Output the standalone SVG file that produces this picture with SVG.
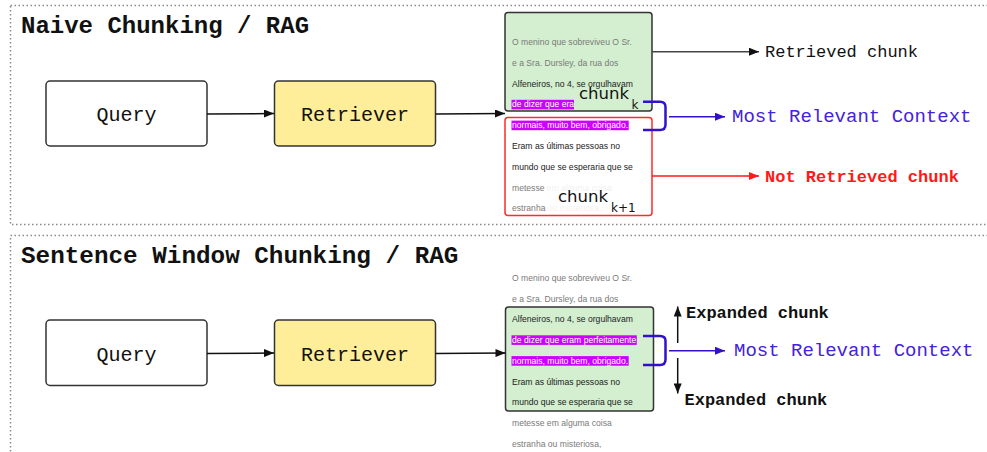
<svg xmlns="http://www.w3.org/2000/svg" width="987" height="452" viewBox="0 0 987 452">
<defs>
<style>
.frame{fill:none;stroke:#8a8a8a;stroke-width:1.5;stroke-dasharray:1.5 2.5}
.title{font-family:"Liberation Mono",monospace;font-weight:bold;fill:#111}
.box{stroke:#333;stroke-width:1.5}
.lbl{font-family:"Liberation Mono",monospace;font-size:20px;fill:#111;text-anchor:middle}
.t{font-family:"Liberation Sans",Arial,sans-serif;font-size:8.6px}
.g{fill:#7a7a7a}
.d{fill:#222}
.w{fill:#fff}
.hl{fill:#cc00ff}
.ck{font-family:"DejaVu Sans",sans-serif;fill:#111}
.mono{font-family:"Liberation Mono",monospace;font-size:17px}
.blue{font-family:"Liberation Mono",monospace;font-size:19px;fill:#4422dd}
.ln{fill:none;stroke-width:1.5}
</style>
<marker id="ab" viewBox="0 0 10 8" refX="10" refY="4" markerWidth="11" markerHeight="8" markerUnits="userSpaceOnUse" orient="auto"><path d="M0,0L10,4L0,8z" fill="#111"/></marker>
<marker id="abl" viewBox="0 0 10 8" refX="10" refY="4" markerWidth="12" markerHeight="8" markerUnits="userSpaceOnUse" orient="auto"><path d="M0,0L10,4L0,8z" fill="#3311cc"/></marker>
<marker id="ar" viewBox="0 0 10 8" refX="10" refY="4" markerWidth="11" markerHeight="8" markerUnits="userSpaceOnUse" orient="auto"><path d="M0,0L10,4L0,8z" fill="#ff1a1a"/></marker>
</defs>
<rect width="987" height="452" fill="#fff"/>

<g id="frame-naive">
<rect class="frame" x="10.5" y="5.5" width="990" height="219"/>
<text class="title" x="21" y="33" font-size="24">Naive Chunking / RAG</text>
</g>
<g id="frame-window">
<rect class="frame" x="10.5" y="235.5" width="990" height="240"/>
<text class="title" x="21" y="263" font-size="24.3">Sentence Window Chunking / RAG</text>
</g>

<g id="query1">
<rect class="box" x="46" y="81" width="161" height="65" rx="4" fill="#fff"/>
<text class="lbl" x="126.5" y="121">Query</text>
</g>
<g id="retriever1">
<rect class="box" x="274.5" y="81" width="161" height="65" rx="4" fill="#ffee99"/>
<text class="lbl" x="355" y="121">Retriever</text>
</g>

<g id="chunk-k">
<rect class="box" x="505" y="12.5" width="147" height="98.5" rx="3" fill="#d3efcf"/>
<text class="t g" x="512" y="45">O menino que sobreviveu O Sr.</text>
<text class="t g" x="512" y="65.8">e a Sra. Dursley, da rua dos</text>
<text class="t d" x="512" y="86.6">Alfeneiros, no 4, se orgulhavam</text>
<rect class="hl" x="511.5" y="99.8" width="62.5" height="9.6"/>
<text class="t w" x="512" y="107.4">de dizer que era</text>
<text class="ck" x="579" y="99" font-size="16.5">chunk</text>
<text class="ck" x="631.5" y="108.5" font-size="12">k</text>
</g>

<g id="chunk-k1">
<rect x="505" y="117.5" width="147" height="98" rx="3" fill="#fff" stroke="#ff2a2a" stroke-width="1.5"/>
<rect class="hl" x="511.5" y="120.6" width="117.2" height="9.6"/>
<text class="t w" x="512" y="128.2">normais, muito bem, obrigado.</text>
<text class="t d" x="512" y="149">Eram as últimas pessoas no</text>
<text class="t d" x="512" y="169.8">mundo que se esperaria que se</text>
<text class="t g" x="512" y="190.6">metesse em alguma coisa</text>
<text class="t g" x="512" y="211.4">estranha ou misteriosa,</text>
<rect x="547" y="180" width="98" height="34" fill="#fff" opacity="0.88"/>
<text class="ck" x="558" y="201.7" font-size="16.5">chunk</text>
<text class="ck" x="611" y="211.5" font-size="12">k+1</text>
</g>

<g id="label-retrieved">
<text class="mono" x="765" y="57.3" fill="#111">Retrieved chunk</text>
</g>
<g id="label-relevant1">
<text class="blue" x="732" y="122">Most Relevant Context</text>
</g>
<g id="label-notretrieved">
<text class="mono" x="765" y="181.7" fill="#ff1a1a" font-weight="bold">Not Retrieved chunk</text>
</g>

<g id="query2">
<rect class="box" x="46" y="320" width="161" height="65.5" rx="4" fill="#fff"/>
<text class="lbl" x="126.5" y="361">Query</text>
</g>
<g id="retriever2">
<rect class="box" x="274.5" y="320" width="161" height="65.5" rx="4" fill="#ffee99"/>
<text class="lbl" x="355" y="361">Retriever</text>
</g>

<g id="window-chunk">
<rect class="box" x="505.5" y="307" width="148" height="104" rx="3" fill="#d3efcf"/>
<text class="t g" x="512" y="280.7">O menino que sobreviveu O Sr.</text>
<text class="t g" x="512" y="301.5">e a Sra. Dursley, da rua dos</text>
<text class="t d" x="512" y="322.3">Alfeneiros, no 4, se orgulhavam</text>
<rect class="hl" x="511.5" y="335.3" width="125.3" height="9.6"/>
<text class="t w" x="512" y="342.9">de dizer que eram perfeitamente</text>
<rect class="hl" x="511.5" y="356.1" width="117.2" height="9.6"/>
<text class="t w" x="512" y="363.7">normais, muito bem, obrigado.</text>
<text class="t d" x="512" y="384.5">Eram as últimas pessoas no</text>
<text class="t d" x="512" y="405.3">mundo que se esperaria que se</text>
<text class="t g" x="512" y="426.1">metesse em alguma coisa</text>
<text class="t g" x="512" y="446.9">estranha ou misteriosa,</text>
</g>

<g id="label-expanded-top">
<text class="mono" x="686" y="318.3" fill="#111" font-weight="bold">Expanded chunk</text>
</g>
<g id="label-relevant2">
<text class="blue" x="734" y="355.7">Most Relevant Context</text>
</g>
<g id="label-expanded-bottom">
<text class="mono" x="684.5" y="405" fill="#111" font-weight="bold">Expanded chunk</text>
</g>

<g id="connectors">
<line class="ln" x1="207" y1="114" x2="274" y2="113.5" stroke="#111" marker-end="url(#ab)"/>
<line class="ln" x1="435.5" y1="114" x2="505" y2="113.5" stroke="#111" marker-end="url(#ab)"/>
<line class="ln" x1="652" y1="51.7" x2="759" y2="51.7" stroke="#444" marker-end="url(#ab)"/>
<path d="M643,101.7 H660 Q665.5,101.7 665.5,107 V124.5 Q665.5,130 660,130 H643" fill="none" stroke="#3311cc" stroke-width="2.5"/>
<line class="ln" x1="669" y1="116.7" x2="725" y2="116.7" stroke="#3311cc" marker-end="url(#abl)"/>
<line class="ln" x1="652" y1="176" x2="759" y2="176" stroke="#ff1a1a" marker-end="url(#ar)"/>

<line class="ln" x1="207" y1="353.5" x2="274" y2="353" stroke="#111" marker-end="url(#ab)"/>
<line class="ln" x1="435.5" y1="353.5" x2="505.5" y2="353" stroke="#111" marker-end="url(#ab)"/>
<path d="M643,336 H660 Q665.5,336 665.5,341 V359.5 Q665.5,365 660,365 H643" fill="none" stroke="#3311cc" stroke-width="2.5"/>
<line class="ln" x1="669" y1="350.7" x2="725" y2="350.7" stroke="#3311cc" marker-end="url(#abl)"/>
<line class="ln" x1="677.7" y1="343" x2="677.7" y2="306.5" stroke="#111" marker-end="url(#ab)"/>
<line class="ln" x1="677.7" y1="358" x2="677.7" y2="393.5" stroke="#111" marker-end="url(#ab)"/>
</g>
</svg>
